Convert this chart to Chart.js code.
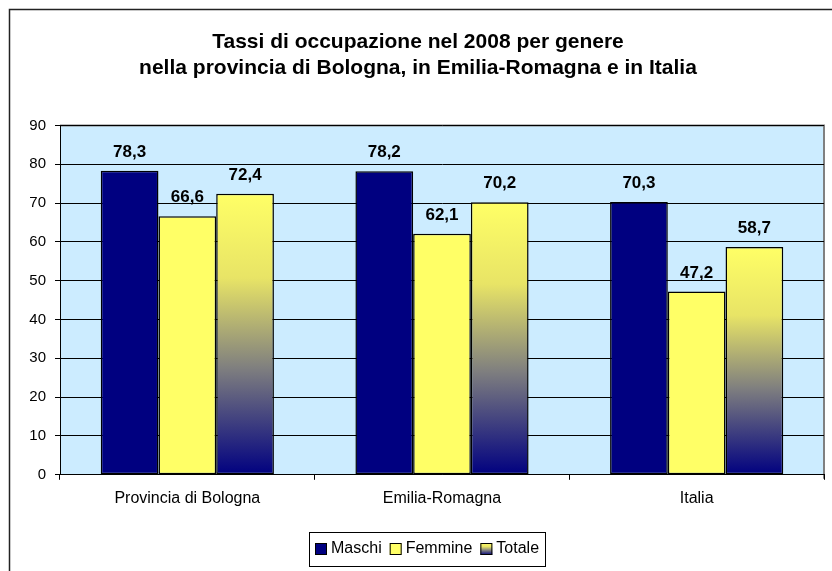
<!DOCTYPE html>
<html>
<head>
<meta charset="utf-8">
<script src="https://cdn.jsdelivr.net/npm/chart.js@4"></script>
<style>
  html, body { margin: 0; padding: 0; background: #fff; }
  #wrap { width: 832px; height: 571px; position: relative; }
</style>
</head>
<body>
<div id="wrap"><canvas id="chart" width="832" height="571"></canvas></div>
<script>
const categories = ["Provincia di Bologna", "Emilia-Romagna", "Italia"];
const maschi = [78.3, 78.2, 70.3];
const femmine = [66.6, 62.1, 47.2];
const totale = [72.4, 70.2, 58.7];
const yTicks = [0, 10, 20, 30, 40, 50, 60, 70, 80, 90];

const FONT = "'Liberation Sans', Arial, sans-serif";
const NAVY = '#000080';
const YELLOW = '#ffff66';

function fillTotale(c, top, bottom) {
    const g = c.createLinearGradient(0, top, 0, bottom);
    g.addColorStop(0, YELLOW);
    g.addColorStop(0.3, '#e8e466');
    g.addColorStop(0.62, '#7f7f7f');
    g.addColorStop(1, NAVY);
    return g;
}

const frame = {
    id: 'frame',
    beforeDraw(chart) {
        const { ctx, chartArea: a } = chart;
        ctx.save();
        ctx.fillStyle = '#ccecff';
        ctx.fillRect(a.left, a.top, a.right - a.left, a.bottom - a.top);
        ctx.strokeStyle = '#808080';
        ctx.lineWidth = 2;
        ctx.beginPath();
        ctx.moveTo(a.left, a.top);
        ctx.lineTo(a.right, a.top);
        ctx.lineTo(a.right, a.bottom + 4);
        ctx.stroke();
        ctx.strokeStyle = '#222';
        ctx.lineWidth = 1.5;
        ctx.beginPath();
        ctx.moveTo(9.5, 580);
        ctx.lineTo(9.5, 9.5);
        ctx.lineTo(840, 9.5);
        ctx.stroke();
        ctx.restore();
    }
};

// legend drawn by hand so it looks like the Excel one
const boxLegend = {
    id: 'boxLegend',
    afterDraw(chart) {
        const ctx = chart.ctx;
        const sets = chart.data.datasets;
        ctx.save();
        ctx.font = '16px ' + FONT;
        const sw = 12, gap = 4, itemGap = 8, pad = 6;
        const widths = sets.map(d => ctx.measureText(d.label).width);
        const total = pad * 2 + widths.reduce((s, w) => s + sw + gap + w, 0) + itemGap * (sets.length - 1);
        const cx = 427, cy = 549;
        let x = Math.round(cx - total / 2);
        ctx.strokeStyle = '#000';
        ctx.lineWidth = 1;
        ctx.strokeRect(x + 0.5, cy - 17 + 0.5, Math.round(total), 34);
        x += pad;
        sets.forEach((d, i) => {
            const top = cy - 6;
            ctx.fillStyle = i === 2 ? fillTotale(ctx, top, top + sw) : d.backgroundColor;
            ctx.fillRect(x, top, sw, sw);
            ctx.strokeRect(x + 0.5, top + 0.5, sw - 1, sw - 1);
            ctx.fillStyle = '#000';
            ctx.textBaseline = 'middle';
            ctx.fillText(d.label, x + sw + gap, cy);
            x += sw + gap + widths[i] + itemGap;
        });
        ctx.restore();
    }
};

const valueLabels = {
    id: 'valueLabels',
    afterDatasetsDraw(chart) {
        const ctx = chart.ctx;
        ctx.save();
        ctx.font = 'bold 17px ' + FONT;
        ctx.fillStyle = '#000';
        ctx.textAlign = 'center';
        ctx.textBaseline = 'bottom';
        chart.data.datasets.forEach((ds, i) => {
            chart.getDatasetMeta(i).data.forEach((bar, j) => {
                ctx.fillText(ds.data[j].toFixed(1).replace('.', ','), bar.x, bar.y - 10);
            });
        });
        ctx.restore();
    }
};

new Chart(document.getElementById('chart'), {
    type: 'bar',
    data: {
        labels: categories,
        datasets: [
            { label: 'Maschi', data: maschi, backgroundColor: NAVY },
            { label: 'Femmine', data: femmine, backgroundColor: YELLOW },
            {
                label: 'Totale', data: totale,
                backgroundColor(c) {
                    const chart = c.chart;
                    if (!chart.chartArea || c.raw === undefined) return YELLOW;
                    const y = chart.scales.y;
                    return fillTotale(chart.ctx, y.getPixelForValue(c.raw), y.getPixelForValue(0));
                }
            }
        ]
    },
    options: {
        responsive: false,
        animation: false,
        events: [],
        layout: { padding: { left: 12, right: 8, top: 0, bottom: 54 } },
        datasets: {
            bar: {
                borderColor: '#000',
                borderWidth: 1.5,
                borderSkipped: false,
                categoryPercentage: 0.68,
                barPercentage: 1
            }
        },
        scales: {
            x: {
                grid: { display: true, drawOnChartArea: false, color: '#000', tickLength: 5 },
                border: { color: '#000', width: 1 },
                ticks: { color: '#000', font: { family: FONT, size: 16 }, padding: 9 }
            },
            y: {
                min: 0, max: 90,
                afterBuildTicks(s) { s.ticks = yTicks.map(v => ({ value: v })); },
                afterFit(s) { s.width = 48; },
                grid: { color: '#000', tickLength: 5 },
                border: { color: '#000', width: 1 },
                ticks: { color: '#000', font: { family: FONT, size: 15 }, padding: 9 }
            }
        },
        plugins: {
            title: {
                display: true,
                text: ['Tassi di occupazione nel 2008 per genere', 'nella provincia di Bologna, in Emilia-Romagna e in Italia'],
                color: '#000',
                font: { family: FONT, size: 21, weight: 'bold', lineHeight: 1.2 },
                padding: { top: 30, bottom: 45 }
            },
            legend: { display: false },
            tooltip: { enabled: false }
        }
    },
    plugins: [frame, valueLabels, boxLegend]
});
</script>
</body>
</html>
